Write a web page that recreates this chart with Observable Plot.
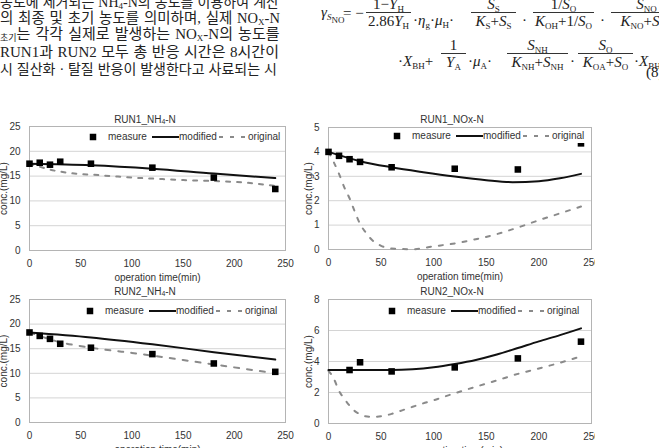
<!DOCTYPE html>
<html><head><meta charset="utf-8">
<script src="https://cdn.jsdelivr.net/npm/d3@7"></script>
<script src="https://cdn.jsdelivr.net/npm/@observablehq/plot@0.6"></script>
<style>
html,body{margin:0;padding:0;}
body{width:659px;height:448px;overflow:hidden;background:#fff;position:relative;font-family:"Liberation Sans",Arial,sans-serif;color:#333;}
.abs{position:absolute;white-space:nowrap;}
.kr{font-family:"Liberation Serif","Noto Sans CJK KR",serif;font-size:15px;line-height:17px;color:#222;}
.kr sub{font-size:9px;vertical-align:-2px;line-height:0;}
.eq{font-family:"Liberation Serif","DejaVu Serif",serif;font-size:15px;color:#222;line-height:1;transform:translateY(-50%);}
.eq sub{font-size:9px;vertical-align:-3px;line-height:0;}
.bar{position:absolute;height:1px;background:#333;}
.title{font-size:10px;color:#333;transform:translate(-50%,-50%);}
.title sub{font-size:7px;vertical-align:-1px;line-height:0;}
.legend{font-size:10px;color:#333;height:14px;background:#fff;}
.legend > *{position:absolute;}
.legend span{top:0;line-height:14px;}
</style></head>
<body>
<script>
// ---------- data ----------
const xTicks = [0, 50, 100, 150, 200, 250];

const run1NH4MeasureT = [0, 10, 20, 30, 60, 120, 180, 240];
const run1NH4Measure  = [17.5, 17.7, 17.3, 17.9, 17.5, 16.7, 14.7, 12.4];
const run1NH4ModT     = [0, 60, 120, 180, 240];
const run1NH4Modified = [17.5, 17.2, 16.5, 15.5, 14.6];
const run1NH4OrigT    = [0, 10, 20, 30, 40, 50, 60, 80, 100, 120, 150, 180, 210, 240];
const run1NH4Original = [17.5, 16.9, 16.3, 15.9, 15.6, 15.4, 15.3, 15.0, 14.7, 14.5, 14.2, 14.0, 13.7, 13.0];

const run1NOxMeasureT = [0, 10, 20, 30, 60, 120, 180, 240];
const run1NOxMeasure  = [4.0, 3.84, 3.7, 3.59, 3.37, 3.31, 3.28, 4.35];
const run1NOxModT     = [0, 30, 60, 90, 120, 150, 175, 200, 220, 240];
const run1NOxModified = [4.0, 3.62, 3.37, 3.17, 2.99, 2.84, 2.76, 2.8, 2.92, 3.1];
const run1NOxOrigT    = [0, 5, 10, 15, 20, 25, 30, 35, 40, 50, 60, 80, 100, 120, 140, 160, 180, 200, 220, 240];
const run1NOxOriginal = [4.0, 3.58, 3.1, 2.55, 2.1, 1.55, 1.05, 0.72, 0.45, 0.15, 0.04, 0.01, 0.13, 0.25, 0.42, 0.63, 0.9, 1.2, 1.48, 1.76];

const run2NH4MeasureT = [0, 10, 20, 30, 60, 120, 180, 240];
const run2NH4Measure  = [18.3, 17.6, 17.0, 16.0, 15.2, 13.9, 12.0, 10.3];
const run2NH4ModT     = [0, 60, 120, 180, 240];
const run2NH4Modified = [18.3, 17.3, 15.9, 14.3, 12.8];
const run2NH4OrigT    = [0, 10, 20, 30, 45, 60, 90, 120, 150, 180, 210, 240];
const run2NH4Original = [18.3, 17.6, 16.9, 16.3, 15.7, 15.2, 14.4, 13.6, 12.7, 11.8, 10.9, 10.0];

const run2NOxMeasureT = [20, 30, 60, 120, 180, 240];
const run2NOxMeasure  = [3.45, 3.95, 3.36, 3.62, 4.2, 5.28];
const run2NOxModT     = [0, 20, 40, 60, 80, 100, 120, 140, 160, 180, 200, 220, 240];
const run2NOxModified = [3.45, 3.45, 3.45, 3.45, 3.5, 3.63, 3.84, 4.1, 4.45, 4.87, 5.3, 5.7, 6.14];
const run2NOxOrigT    = [0, 5, 10, 15, 20, 25, 30, 35, 43, 50, 60, 70, 80, 90, 100, 110, 120, 140, 160, 180, 200, 220, 240];
const run2NOxOriginal = [3.4, 2.9, 2.1, 1.6, 1.15, 0.8, 0.6, 0.47, 0.43, 0.47, 0.62, 0.85, 1.08, 1.3, 1.5, 1.73, 1.95, 2.37, 2.78, 3.2, 3.55, 3.92, 4.33];

const nhTicks = [0, 5, 10, 15, 20, 25];
const no1Ticks = [0, 1, 2, 3, 4, 5];
const no2Ticks = [0, 2, 4, 6, 8];

const seriesNames = ["measure", "modified", "original"];

// ---------- helpers ----------
const zip = (t, v) => t.map((d, i) => ({t: d, v: v[i]}));
function el(cls, x, y, html, parent) {
  const d = document.createElement("div");
  d.className = "abs " + cls;
  d.style.left = x + "px"; d.style.top = y + "px";
  d.innerHTML = html;
  (parent || document.body).appendChild(d);
  return d;
}
function frac(xl, xr, yb, num, den) {
  const b = document.createElement("div");
  b.className = "bar"; b.style.left = xl + "px"; b.style.top = yb + "px"; b.style.width = (xr - xl) + "px";
  document.body.appendChild(b);
  const n = el("eq", xl, yb - 8, num); n.style.width = (xr - xl) + "px"; n.style.textAlign = "center";
  const dd = el("eq", xl, yb + 9, den); dd.style.width = (xr - xl) + "px"; dd.style.textAlign = "center";
}
function krLine(y, html, target) {
  const d = el("kr", 0, y, html);
  let fs = 15;
  while (d.offsetWidth > target && fs > 9) { fs -= 0.5; d.style.fontSize = fs + "px"; }
  const spaces = (d.textContent.match(/ /g) || []).length;
  const w = d.offsetWidth;
  if (spaces && w < target) d.style.wordSpacing = ((target - w) / spaces) + "px";
}

// ---------- body text ----------
krLine(-6, "농도에 제거되는 NH<sub>4</sub>-N의 농도를 이용하여 계산", 279);
krLine(9.5, "의 최종 및 초기 농도를 의미하며, 실제 NO<sub>X</sub>-N", 280);
krLine(26, "<sub>초기</sub>는 각각 실제로 발생하는 NO<sub>X</sub>-N의 농도를", 280);
krLine(43.5, "RUN1과 RUN2 모두 총 반응 시간은 8시간이", 279);
krLine(61, "시 질산화 · 탈질 반응이 발생한다고 사료되는 시", 277);

// ---------- equation ----------
el("eq", 321, 12, "<i>γ</i><sub><i>S</i><sub>NO</sub></sub>");
el("eq", 343, 13, "= −");
frac(366, 411, 12, "1−<i>Y</i><sub>H</sub>", "2.86<i>Y</i><sub>H</sub>");
el("eq", 413, 20, "·<i>η</i><sub>g</sub>·<i>μ</i><sub>H</sub>·");
frac(471, 516, 12, "<i>S</i><sub>S</sub>", "<i>K</i><sub>S</sub>+<i>S</i><sub>S</sub>");
el("eq", 522, 20, "·");
frac(533, 594, 12, "1/<i>S</i><sub>O</sub>", "<i>K</i><sub>OH</sub>+1/<i>S</i><sub>O</sub>");
el("eq", 600, 20, "·");
frac(611, 682, 12, "<i>S</i><sub>NO</sub>", "<i>K</i><sub>NO</sub>+<i>S</i><sub>NO</sub>");
el("eq", 398, 61, "·<i>X</i><sub>BH</sub>+");
frac(441, 466, 53, "1", "<i>Y</i><sub>A</sub>");
el("eq", 468, 61, "·<i>μ</i><sub>A</sub>·");
frac(507, 568, 53, "<i>S</i><sub>NH</sub>", "<i>K</i><sub>NH</sub>+<i>S</i><sub>NH</sub>");
el("eq", 570, 61, "·");
frac(578, 633, 53, "<i>S</i><sub>O</sub>", "<i>K</i><sub>OA</sub>+<i>S</i><sub>O</sub>");
el("eq", 634, 61, "·<i>X</i><sub>BH</sub>");
el("eq", 646, 72, "(8)");

// ---------- legend ----------
function legend(sx, y) {
  const box = el("legend", sx - 6, y - 7, "");
  box.style.width = "198px";
  const o = 6; // offset of square center inside box
  box.innerHTML =
    `<svg width="8" height="8" style="left:${o - 4}px;top:3px"><rect x="0.75" y="0.75" width="6.5" height="6.5" fill="#000"/></svg>` +
    `<span style="left:${o + 15}px">${seriesNames[0]}</span>` +
    `<svg width="27" height="6" style="left:${o + 59}px;top:4px"><line x1="0" y1="3" x2="27" y2="3" stroke="#111" stroke-width="2"/></svg>` +
    `<span style="left:${o + 86}px">${seriesNames[1]}</span>` +
    `<svg width="26" height="6" style="left:${o + 126}px;top:4px"><line x1="0" y1="3" x2="26" y2="3" stroke="#8a8a8a" stroke-width="2" stroke-dasharray="4,7"/></svg>` +
    `<span style="left:${o + 155}px">${seriesNames[2]}</span>`;
}

// ---------- charts ----------
function panel(cfg) {
  const {x0, x1, y0, y1, yMax, yTicks, measure, modified, original, yLabelOffset, clipRight, dash, title, titleX, titleY} = cfg;
  const mL = 40, mR = 12, mT = 10, mB = 40;
  const W = x1 - x0 + mL + mR, H = y1 - y0 + mT + mB;
  const chart = Plot.plot({
    width: W, height: H, marginLeft: mL, marginRight: mR, marginTop: mT, marginBottom: mB,
    style: {fontFamily: '"Liberation Sans", Arial, sans-serif', fontSize: "10px", color: "#333", background: "transparent", overflow: "visible"},
    x: {domain: [0, 250], ticks: xTicks, tickFormat: d => String(d), tickSize: 0, tickPadding: 9, label: "operation time(min)", labelAnchor: "center", labelOffset: 30, labelArrow: false},
    y: {domain: [0, yMax], ticks: yTicks, tickFormat: d => String(d), tickSize: 0, tickPadding: 9, label: "conc.(mg/L)", labelAnchor: "center", labelOffset: yLabelOffset, labelArrow: false},
    marks: [
      Plot.gridY(yTicks, {stroke: "#d4d4d4", strokeOpacity: 1}),
      Plot.frame({stroke: "#b4b4b4"}),
      Plot.line(original, {x: "t", y: "v", stroke: "#8a8a8a", strokeWidth: 2, strokeDasharray: dash, curve: "monotone-x"}),
      Plot.line(modified, {x: "t", y: "v", stroke: "#111", strokeWidth: 2, curve: "monotone-x"}),
      Plot.dot(measure, {x: "t", y: "v", symbol: "square", r: 3.7, fill: "#000", stroke: "none"})
    ]
  });
  const wrap = document.createElement("div");
  wrap.style.position = "absolute";
  wrap.style.left = (x0 - mL) + "px";
  wrap.style.top = (y0 - mT) + "px";
  wrap.style.width = (clipRight ? clipRight - (x0 - mL) : W) + "px";
  wrap.style.height = H + "px";
  wrap.style.overflow = clipRight ? "hidden" : "visible";
  chart.style.maxWidth = "none";
  wrap.appendChild(chart);
  document.body.appendChild(wrap);
  el("title", titleX, titleY, title);
}

panel({x0: 29, x1: 285, y0: 126, y1: 250, yMax: 25, yTicks: nhTicks,
  measure: zip(run1NH4MeasureT, run1NH4Measure), modified: zip(run1NH4ModT, run1NH4Modified), original: zip(run1NH4OrigT, run1NH4Original),
  yLabelOffset: 30, dash: "4,7", title: "RUN1_NH<sub>4</sub>-N", titleX: 145, titleY: 119});
panel({x0: 328, x1: 591, y0: 127, y1: 249, yMax: 5, yTicks: no1Ticks,
  measure: zip(run1NOxMeasureT, run1NOxMeasure), modified: zip(run1NOxModT, run1NOxModified), original: zip(run1NOxOrigT, run1NOxOriginal),
  yLabelOffset: 24, clipRight: 595, dash: "4,8", title: "RUN1_NOx-N", titleX: 452, titleY: 119});
panel({x0: 29, x1: 285, y0: 299, y1: 422, yMax: 25, yTicks: nhTicks,
  measure: zip(run2NH4MeasureT, run2NH4Measure), modified: zip(run2NH4ModT, run2NH4Modified), original: zip(run2NH4OrigT, run2NH4Original),
  yLabelOffset: 30, dash: "5,8", title: "RUN2_NH<sub>4</sub>-N", titleX: 145, titleY: 291});
panel({x0: 328, x1: 591, y0: 299, y1: 423, yMax: 8, yTicks: no2Ticks,
  measure: zip(run2NOxMeasureT, run2NOxMeasure), modified: zip(run2NOxModT, run2NOxModified), original: zip(run2NOxOrigT, run2NOxOriginal),
  yLabelOffset: 24, clipRight: 595, dash: "4,8", title: "RUN2_NOx-N", titleX: 452, titleY: 291});

legend(93, 137);
legend(397, 136);
legend(90, 311);
legend(392, 311);
</script>
</body></html>
